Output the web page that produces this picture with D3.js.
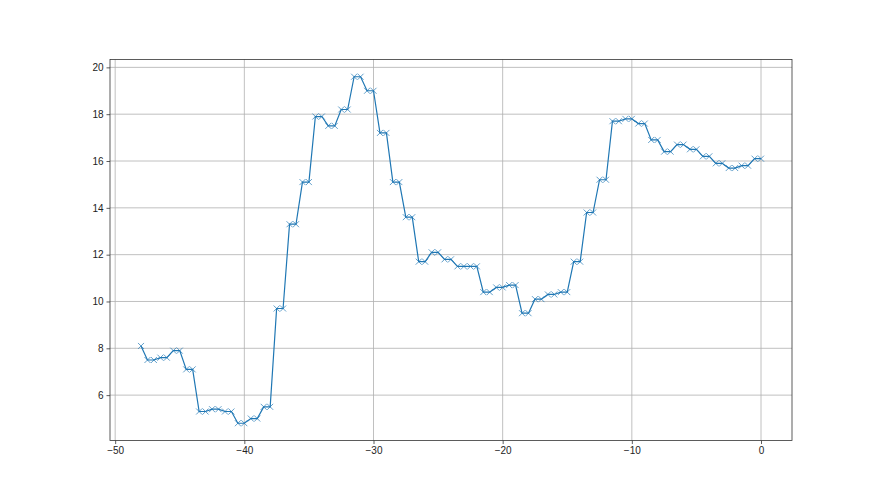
<!DOCTYPE html>
<html>
<head>
<meta charset="utf-8">
<script src="https://cdn.jsdelivr.net/npm/d3@7"></script>
<style>
  body { margin: 0; background: #fff; }
  svg { font-family: "Liberation Sans Narrow", "Liberation Sans", sans-serif; }
</style>
</head>
<body>
<div id="chart"></div>
<script>
// x positions (hours) and values
const hours = [-48,
  -47.5, -47, -46.5, -46, -45.5, -45, -44.5, -44, -43.5, -43,
  -42.5, -42, -41.5, -41, -40.5, -40, -39.5, -39, -38.5, -38,
  -37.5, -37, -36.5, -36, -35.5, -35, -34.5, -34, -33.5, -33,
  -32.5, -32, -31.5, -31, -30.5, -30, -29.5, -29, -28.5, -28,
  -27.5, -27, -26.5, -26, -25.5, -25, -24.5, -24, -23.5, -23,
  -22.5, -22, -21.5, -21, -20.5, -20, -19.5, -19, -18.5, -18,
  -17.5, -17, -16.5, -16, -15.5, -15, -14.5, -14, -13.5, -13,
  -12.5, -12, -11.5, -11, -10.5, -10, -9.5, -9, -8.5, -8,
  -7.5, -7, -6.5, -6, -5.5, -5, -4.5, -4, -3.5, -3,
  -2.5, -2, -1.5, -1, -0.5, 0];

const values = [8.1,
  7.5, 7.5, 7.6, 7.6, 7.9, 7.9, 7.1, 7.1, 5.3, 5.3,
  5.4, 5.4, 5.3, 5.3, 4.8, 4.8, 5.0, 5.0, 5.5, 5.5,
  9.7, 9.7, 13.3, 13.3, 15.1, 15.1, 17.9, 17.9, 17.5, 17.5,
  18.2, 18.2, 19.6, 19.6, 19.0, 19.0, 17.2, 17.2, 15.1, 15.1,
  13.6, 13.6, 11.7, 11.7, 12.1, 12.1, 11.8, 11.8, 11.5, 11.5,
  11.5, 11.5, 10.4, 10.4, 10.6, 10.6, 10.7, 10.7, 9.5, 9.5,
  10.1, 10.1, 10.3, 10.3, 10.4, 10.4, 11.7, 11.7, 13.8, 13.8,
  15.2, 15.2, 17.7, 17.7, 17.8, 17.8, 17.6, 17.6, 16.9, 16.9,
  16.4, 16.4, 16.7, 16.7, 16.5, 16.5, 16.2, 16.2, 15.9, 15.9,
  15.7, 15.7, 15.8, 15.8, 16.1, 16.1];

const xTicks = [-50, -40, -30, -20, -10, 0];
const yTicks = [6, 8, 10, 12, 14, 16, 18, 20];

const data = hours.map((h, i) => ({x: h, y: values[i]}));

// Figure layout (matplotlib default subplot margins)
const W = 880, H = 495;
const margin = {top: 59.4, right: 88, bottom: 54.45, left: 110};
const width = W - margin.left - margin.right;
const height = H - margin.top - margin.bottom;

const svg = d3.select("#chart")
    .append("svg")
    .attr("width", W)
    .attr("height", H)
    .append("g")
    .attr("transform", `translate(${margin.left},${margin.top})`);

// 5% padding on both axes like matplotlib
const xExt = d3.extent(hours), yExt = d3.extent(values);
const xPad = (xExt[1] - xExt[0]) * 0.05, yPad = (yExt[1] - yExt[0]) * 0.05;

const x = d3.scaleLinear()
    .domain([xExt[0] - xPad, xExt[1] + xPad])
    .range([0, width]);

const y = d3.scaleLinear()
    .domain([yExt[0] - yPad, yExt[1] + yPad])
    .range([height, 0]);

const fmt = d => d < 0 ? "\u2212" + Math.abs(d) : String(d);

// Grid lines
svg.append("g")
    .selectAll("line")
    .data(xTicks)
    .enter()
    .append("line")
    .attr("x1", d => x(d)).attr("x2", d => x(d))
    .attr("y1", 0).attr("y2", height)
    .attr("stroke", "#b0b0b0").attr("stroke-width", 0.8);

svg.append("g")
    .selectAll("line")
    .data(yTicks)
    .enter()
    .append("line")
    .attr("x1", 0).attr("x2", width)
    .attr("y1", d => y(d)).attr("y2", d => y(d))
    .attr("stroke", "#b0b0b0").attr("stroke-width", 0.8);

// Axes
const xAxis = svg.append("g")
    .attr("transform", `translate(0,${height})`)
    .call(d3.axisBottom(x).tickValues(xTicks).tickFormat(fmt).tickSize(3.5).tickPadding(3));

const yAxis = svg.append("g")
    .call(d3.axisLeft(y).tickValues(yTicks).tickFormat(fmt).tickSize(3.5).tickPadding(3));

[xAxis, yAxis].forEach(a => {
    a.select(".domain").remove();
    a.selectAll("line").attr("stroke", "#333").attr("stroke-width", 0.8);
    a.selectAll("text")
        .attr("fill", "#222")
        .style("font-size", "10px")
        .style("font-family", "Liberation Sans Narrow, Liberation Sans, sans-serif");
});

// Frame
svg.append("rect")
    .attr("x", 0).attr("y", 0)
    .attr("width", width).attr("height", height)
    .attr("fill", "none")
    .attr("stroke", "#333")
    .attr("stroke-width", 0.8);

// Line
const line = d3.line()
    .x(d => x(d.x))
    .y(d => y(d.y));

svg.append("path")
    .datum(data)
    .attr("fill", "none")
    .attr("stroke", "#1f77b4")
    .attr("stroke-width", 1.2)
    .attr("d", line);

// 'x' markers
const s = 3;
svg.selectAll(".marker")
    .data(data)
    .enter()
    .append("path")
    .attr("class", "marker")
    .attr("d", d => {
        const cx = x(d.x), cy = y(d.y);
        return `M${cx - s},${cy - s}L${cx + s},${cy + s}M${cx - s},${cy + s}L${cx + s},${cy - s}`;
    })
    .attr("stroke", "#1f77b4")
    .attr("stroke-width", 0.7)
    .attr("fill", "none");
</script>
</body>
</html>
